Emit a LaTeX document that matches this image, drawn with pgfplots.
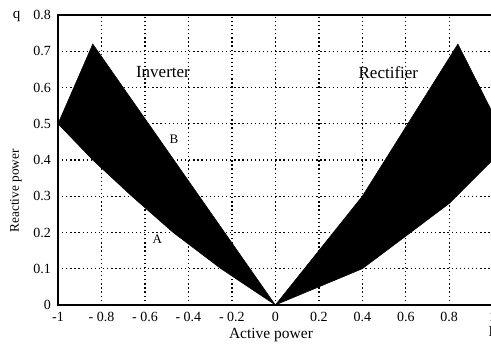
\documentclass[border=0pt]{standalone}
\usepackage{fontspec}
\setmainfont{Liberation Serif}
\usepackage{pgfplots}
\pgfplotsset{compat=1.18}
\begin{document}
\begin{tikzpicture}
\begin{axis}[
  scale only axis, width=434.7pt, height=290pt,
  xmin=-1, xmax=1, ymin=0, ymax=0.8,
  xtick={-1,-0.8,-0.6,-0.4,-0.2,0,0.2,0.4,0.6,0.8,1},
  xticklabels={-1,- 0.8,- 0.6,- 0.4,- 0.2,0,0.2,0.4,0.6,0.8,1},
  ytick={0,0.1,0.2,0.3,0.4,0.5,0.6,0.7,0.8},
  yticklabels={0,0.1,0.2,0.3,0.4,0.5,0.6,0.7,0.8},
  grid=major,
  grid style={black, line width=1.4pt, dash pattern=on 1.3pt off 2.8pt},
  major tick length=0pt,
  tick label style={font=\fontsize{14}{16}\selectfont},
  xticklabel style={yshift=-3.5pt},
  yticklabel style={xshift=-3.5pt},
  axis line style={black, line width=1.1pt},
  clip=false,
]
\addplot[fill=black, draw=black, line width=0.5pt] coordinates {(-1,0.5) (-0.84,0.72) (0,0) (-0.25,0.1) (-0.47,0.2) (-0.66,0.3) (-0.84,0.4) (-1,0.5)} -- cycle;
\addplot[fill=black, draw=black, line width=0.5pt] coordinates {(0,0) (0.4,0.3) (0.84,0.72) (1,0.53) (1,0.4) (0.8,0.28) (0.4,0.1) (0,0)} -- cycle;
\node[font=\fontsize{17}{20}\selectfont] at (axis cs:-0.517,0.642) {Inverter};
\node[font=\fontsize{17}{20}\selectfont] at (axis cs:0.52,0.642) {Rectifier};
\node[font=\fontsize{13}{15}\selectfont] at (axis cs:-0.466,0.457) {B};
\node[font=\fontsize{13}{15}\selectfont] at (axis cs:-0.543,0.181) {A};
\node[font=\fontsize{15}{18}\selectfont, anchor=base, xshift=-41.3pt, yshift=-3.5pt] at (axis cs:-1,0.8) {q};
\node[font=\fontsize{15}{18}\selectfont, anchor=base, yshift=-31.7pt] at (axis cs:1,0) {P};
\node[font=\fontsize{15.5}{18}\selectfont, anchor=base, yshift=-33.3pt] at (axis cs:-0.02,0) {Active power};
\node[font=\fontsize{13.3}{16}\selectfont, rotate=90] at ([xshift=-42.2pt]axis cs:-1,0.315) {Reactive power};
\coordinate (O) at (axis cs:-1,0);
\end{axis}
\pgfresetboundingbox
\path[use as bounding box] ([xshift=-58pt,yshift=-41pt]O) rectangle ([xshift=433pt,yshift=305pt]O);
\end{tikzpicture}
\end{document}
